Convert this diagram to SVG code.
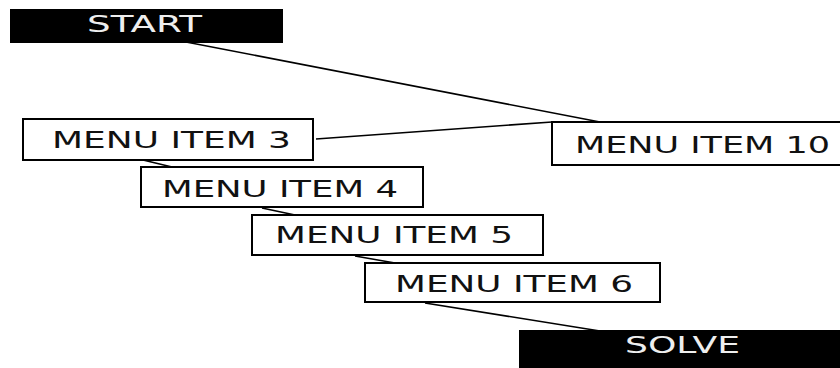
<svg xmlns="http://www.w3.org/2000/svg" width="840" height="368" viewBox="0 0 840 368">
<style>
.box{fill:#fff;stroke:#000;stroke-width:2}
.term{fill:#000;stroke:#000;stroke-width:2}
.t{font-family:"DejaVu Sans","Liberation Sans",sans-serif;font-size:23px;fill:#111}
.tw{font-family:"DejaVu Sans","Liberation Sans",sans-serif;font-size:23px;fill:#eee}
.c{stroke:#000;stroke-width:1.6;fill:none}
</style>
<rect width="840" height="368" fill="#fff"/>
<g id="connectors">
<line class="c" x1="186" y1="42" x2="600" y2="122"/>
<line class="c" x1="316" y1="139" x2="552" y2="122"/>
<line class="c" x1="143" y1="160" x2="172" y2="167"/>
<line class="c" x1="262" y1="208" x2="295" y2="215"/>
<line class="c" x1="355" y1="256" x2="395" y2="263"/>
<line class="c" x1="425" y1="303" x2="600" y2="331"/>
</g>
<g id="start">
<rect class="term" x="11" y="10" width="271" height="32"/>
<text class="tw" x="87" y="32" textLength="115" lengthAdjust="spacingAndGlyphs">START</text>
</g>
<g id="item10">
<rect class="box" x="552" y="122" width="300" height="43"/>
<text class="t" x="575" y="153" textLength="255" lengthAdjust="spacingAndGlyphs">MENU ITEM 10</text>
</g>
<g id="item3">
<rect class="box" x="23" y="119" width="290" height="41"/>
<text class="t" x="52" y="148" textLength="239" lengthAdjust="spacingAndGlyphs">MENU ITEM 3</text>
</g>
<g id="item4">
<rect class="box" x="141" y="167" width="282" height="40"/>
<text class="t" x="162" y="197" textLength="236" lengthAdjust="spacingAndGlyphs">MENU ITEM 4</text>
</g>
<g id="item5">
<rect class="box" x="252" y="215" width="291" height="40"/>
<text class="t" x="275" y="243" textLength="238" lengthAdjust="spacingAndGlyphs">MENU ITEM 5</text>
</g>
<g id="item6">
<rect class="box" x="365" y="263" width="295" height="39"/>
<text class="t" x="395" y="292" textLength="238" lengthAdjust="spacingAndGlyphs">MENU ITEM 6</text>
</g>
<g id="solve">
<rect class="term" x="520" y="331" width="330" height="40"/>
<text class="tw" x="625" y="353" textLength="115" lengthAdjust="spacingAndGlyphs">SOLVE</text>
</g>
</svg>
